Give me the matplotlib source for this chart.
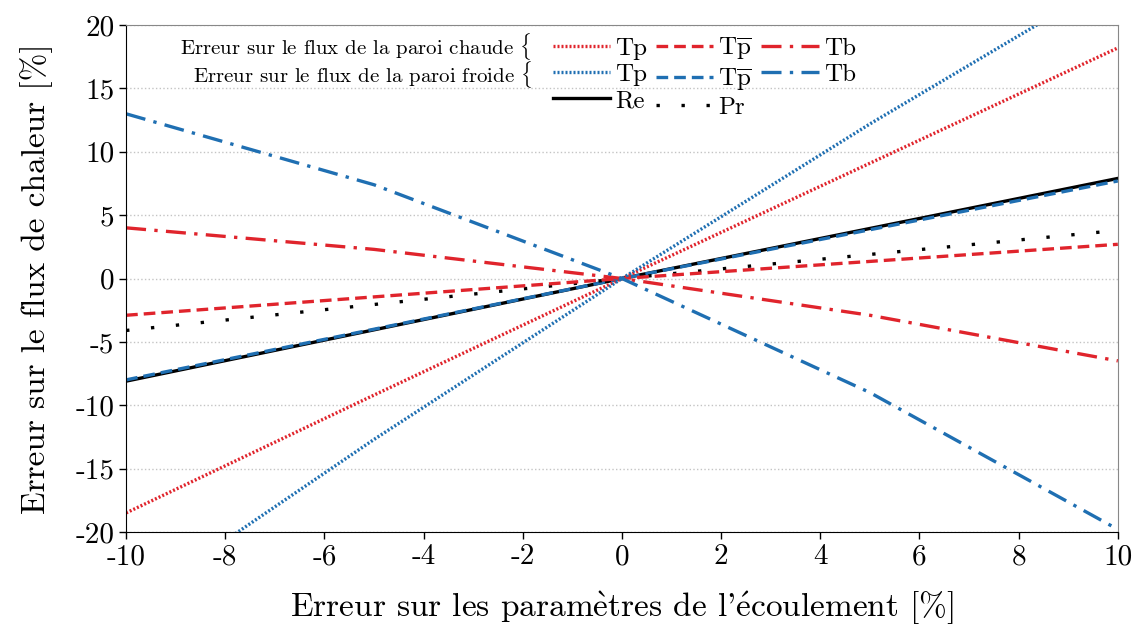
import matplotlib
matplotlib.use("Agg")
import matplotlib.pyplot as plt
from matplotlib.lines import Line2D

plt.rcParams['font.family'] = ['cmr10', 'DejaVu Serif']
plt.rcParams['mathtext.fontset'] = 'cm'
plt.rcParams['axes.unicode_minus'] = False
plt.rcParams['axes.formatter.use_mathtext'] = False

x = [-10, -5, 0, 5, 10]
hot_tp = [-18.5, -9.2, 0, 9.1, 18.2]
hot_tpbar = [-2.9, -1.45, 0, 1.35, 2.7]
hot_tb = [4.0, 2.3, 0, -2.9, -6.5]
cold_tp = [-26.0, -12.7, 0, 12.2, 23.8]
cold_tpbar = [-8.0, -4.0, 0, 3.85, 7.7]
cold_tb = [13.0, 7.4, 0, -9.0, -19.8]
re_vals = [-8.1, -4.05, 0, 3.95, 7.9]
pr_vals = [-4.1, -2.05, 0, 1.9, 3.8]

xticks = [-10, -8, -6, -4, -2, 0, 2, 4, 6, 8, 10]
yticks = [-20, -15, -10, -5, 0, 5, 10, 15, 20]

RED = '#e0242c'
BLUE = '#1f6fb2'

fig = plt.figure(figsize=(11.36, 6.28), dpi=100)
ax = fig.add_axes([0.111, 0.153, 0.873, 0.807])

lw = 2.4
DOT = (0, (0.6, 0.6))
DASH = (0, (3.5, 1.8))
DASHDOT = (0, (6, 2.5, 1, 2.5))
PRDOT = (0, (1, 6.5))
h_re, = ax.plot(x, re_vals, color='black', lw=lw, ls='-')
h_ctpb, = ax.plot(x, cold_tpbar, color=BLUE, lw=lw, ls=DASH)
h_pr, = ax.plot(x, pr_vals, color='black', lw=2.4, ls=PRDOT)
h_htp, = ax.plot(x, hot_tp, color=RED, lw=lw, ls=DOT)
h_htpb, = ax.plot(x, hot_tpbar, color=RED, lw=lw, ls=DASH)
h_htb, = ax.plot(x, hot_tb, color=RED, lw=lw, ls=DASHDOT)
h_ctp, = ax.plot(x, cold_tp, color=BLUE, lw=lw, ls=DOT)
h_ctb, = ax.plot(x, cold_tb, color=BLUE, lw=lw, ls=DASHDOT)

ax.set_xlim(-10, 10)
ax.set_ylim(-20, 20)
ax.set_xticks(xticks)
ax.set_yticks(yticks)
ax.set_xticklabels([str(v) for v in xticks])
ax.set_yticklabels([str(v) for v in yticks])
ax.tick_params(labelsize=21, direction='out', length=5, width=1)
ax.yaxis.grid(True, ls=':', color='#c4c4c4', lw=1)
ax.set_axisbelow(True)
for s in ['top', 'right']:
    ax.spines[s].set_color('#888888')
ax.set_xlabel(r"Erreur sur les param$\grave{\mathrm{e}}$tres de l'$\acute{\mathrm{e}}$coulement [%]",
              fontsize=24, labelpad=14)
ax.set_ylabel("Erreur sur le flux de chaleur [%]", fontsize=24, labelpad=16)

pr_handle = Line2D([0, 1], [0, 0], color='black', lw=2.4, ls=PRDOT)
blank = Line2D([], [], lw=0)
tpbar = r'T$\overline{\mathrm{p}}$'
handles = [h_htp, h_ctp, h_re, h_htpb, h_ctpb, pr_handle, h_htb, h_ctb, blank]
labels = ['Tp', 'Tp', 'Re', tpbar, tpbar, 'Pr', 'Tb', 'Tb', '']
leg = ax.legend(handles, labels, ncol=3, loc='upper left',
                bbox_to_anchor=(0.415, 1.01), frameon=False, fontsize=18,
                handlelength=2.3, handletextpad=0.2, columnspacing=0.35,
                labelspacing=0.15, borderaxespad=0.2)

fig.text(0.468, 0.926, r"Erreur sur le flux de la paroi chaude $\{$", fontsize=15,
         ha='right', va='center')
fig.text(0.468, 0.881, r"Erreur sur le flux de la paroi froide $\{$", fontsize=15,
         ha='right', va='center')

fig.savefig('out.png', dpi=100)
